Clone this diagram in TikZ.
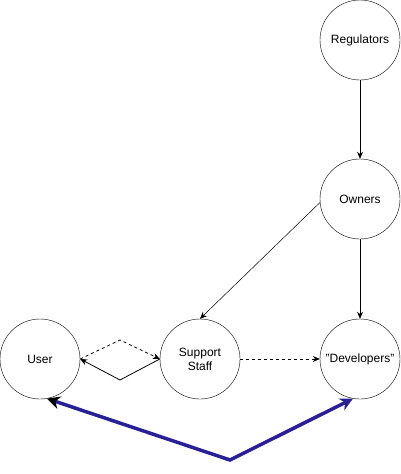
\documentclass[tikz,border=0pt]{standalone}
\usepackage{fontspec}
\setmainfont{Liberation Sans}
\usetikzlibrary{arrows.meta}
\definecolor{linkblue}{RGB}{42,32,150}
\tikzset{
  party/.style={draw, circle, minimum size=80pt, inner sep=0pt, align=center, font=\fontsize{12}{14}\selectfont},
  flow/.style={-{Stealth[length=7pt,width=6pt]}, line width=0.8pt},
  dashflow/.style={flow, dash pattern=on 3pt off 3pt}
}
\begin{document}
\begin{tikzpicture}[x=1pt,y=-1pt]
      \useasboundingbox (0,0) rectangle (401,474);
      \draw
        (360,40) node[party] (regulators){Regulators}
        (360,199) node[party] (owners){Owners}
        (360,359) node[party] (developers){"Developers"}
        (200,359) node[party] (support){Support\\Staff}
        (40,359) node[party] (user){User};
      \coordinate (top) at (120,340);
      \coordinate (bottom) at (120,380);
      \coordinate (base) at (230,460);
      \begin{scope}[flow]
        \draw (regulators) to (owners);
        \draw (owners) to (developers);
        \draw[line width=0.5pt] (owners.185) to (support.north);
        \draw[dashflow] (support) to (developers);
        \draw[dashflow] (user.east) -- (top) -- (support.west);
        \draw (support.west) -- (bottom) -- (user.east);
      \end{scope}
      \draw[linkblue, line width=3.5pt, {Stealth[black,length=13pt,width=13pt]}-{Stealth[length=13pt,width=13pt]}]
        (user.-80) -- (base) -- (developers.-100);
    \end{tikzpicture}
\end{document}
